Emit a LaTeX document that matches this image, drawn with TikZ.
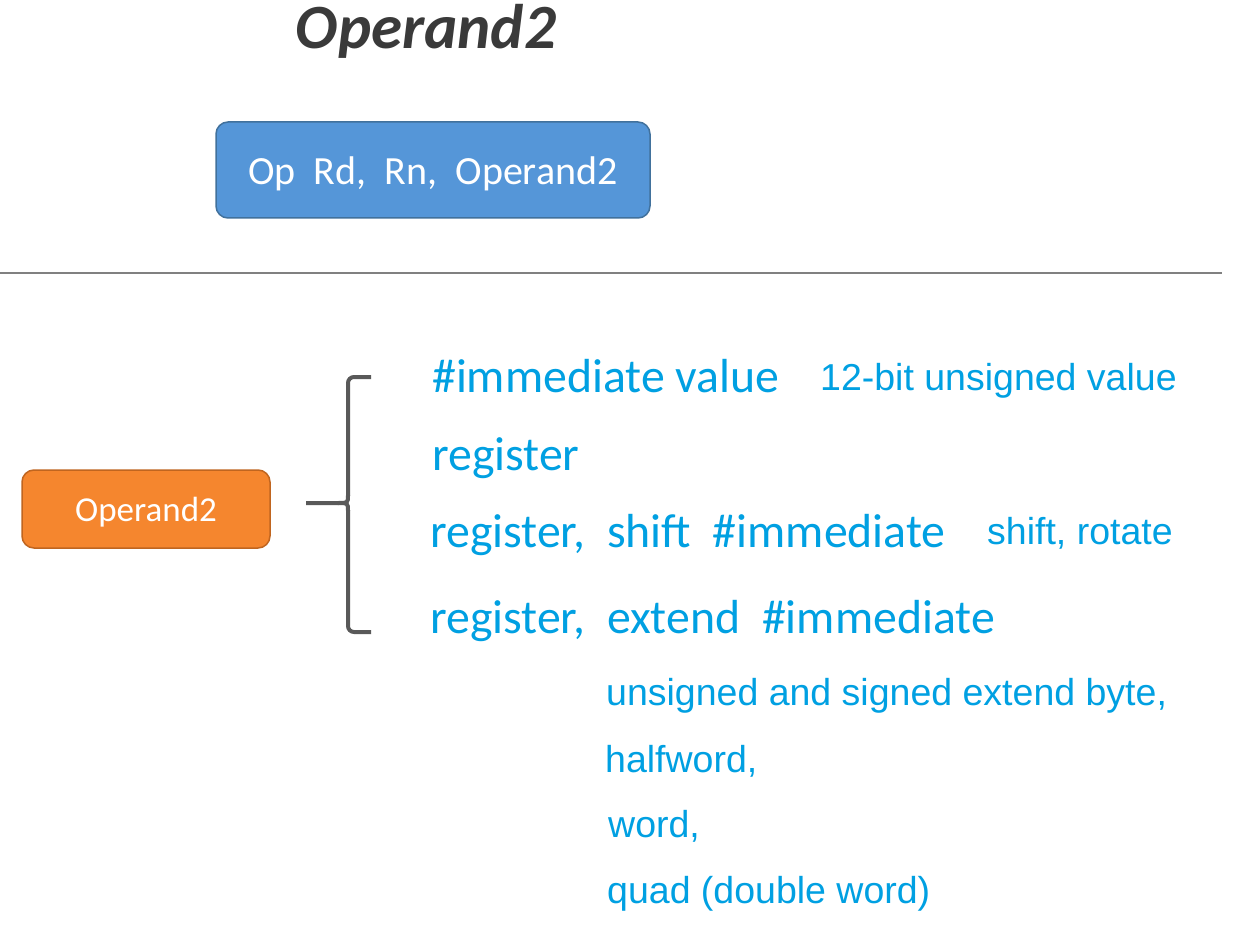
\documentclass[tikz,border=0pt]{standalone}
\usepackage{fontspec}
\setmainfont{Carlito}
\newfontfamily\arialf{Liberation Sans}
\definecolor{boxblue}{HTML}{5596D8}
\definecolor{boxblueline}{HTML}{41719C}
\definecolor{boxorange}{HTML}{F5862E}
\definecolor{boxorangeline}{HTML}{C0651F}
\definecolor{txtblue}{HTML}{00A0E2}
\definecolor{titlegray}{HTML}{3A3A3A}
\definecolor{bracegray}{HTML}{595959}
\begin{document}
\begin{tikzpicture}[x=1pt,y=-1pt,
  bigtxt/.style={anchor=base west,inner sep=0pt,text=txtblue,font=\fontsize{47.8}{52}\selectfont},
  smalltxt/.style={anchor=base west,inner sep=0pt,text=txtblue,font=\arialf\fontsize{37.5}{40}\selectfont},
  roundbox/.style={rounded corners=12pt,line width=1.5pt,text=white}]
\useasboundingbox (0,0) rectangle (1253,936);
\fill[white] (0,0) rectangle (1253,936);
% title
\node[anchor=base,inner sep=0pt,text=titlegray,font=\fontsize{63}{66}\selectfont\bfseries\itshape] (title) at (426,49) {Operand2};
% blue box
\draw[roundbox,fill=boxblue,draw=boxblueline] (216,122) rectangle (650,218);
\node[inner sep=0pt,text=white,font=\fontsize{40}{42}\selectfont,anchor=base] (instr) at (433,185) {Op\ \ Rd,\ \ Rn,\ \ Operand2};
% separator
\draw[line width=1.2pt,draw=black!50] (0,273) -- (1222,273);
% orange box
\draw[roundbox,fill=boxorange,draw=boxorangeline] (22,470) rectangle (270,548);
\node[inner sep=0pt,text=white,font=\fontsize{35}{38}\selectfont,anchor=base] (op2) at (146,521) {Operand2};
% brace
\draw[bracegray,line width=4pt,rounded corners=6pt] (371,377) -- (348,377) -- (348,496);
\draw[bracegray,line width=4pt] (348,495) .. controls (348,503) .. (338,503) -- (306,503);
\draw[bracegray,line width=4pt] (338,503) .. controls (348,503) .. (348,511);
\draw[bracegray,line width=4pt,rounded corners=6pt] (348,510) -- (348,632) -- (371,632);
% texts
\node[bigtxt] (imm) at (432,392) {\#immediate value};
\node[smalltxt] (imm12) at (820,390) {12-bit unsigned value};
\node[bigtxt] (reg) at (432,470) {register};
\node[bigtxt] (regshift) at (430,547) {register,\ \ shift\ \ \#immediate};
\node[smalltxt] (shiftrot) at (987,544) {shift, rotate};
\node[bigtxt] (regext) at (430,633) {register,\ \ extend\ \ \#immediate};
\node[smalltxt] (ext1) at (606,705) {unsigned and signed extend byte,};
\node[smalltxt] (ext2) at (605,772) {halfword,};
\node[smalltxt] (ext3) at (608,837) {word,};
\node[smalltxt] (ext4) at (607,903) {quad (double word)};
\end{tikzpicture}
\end{document}
